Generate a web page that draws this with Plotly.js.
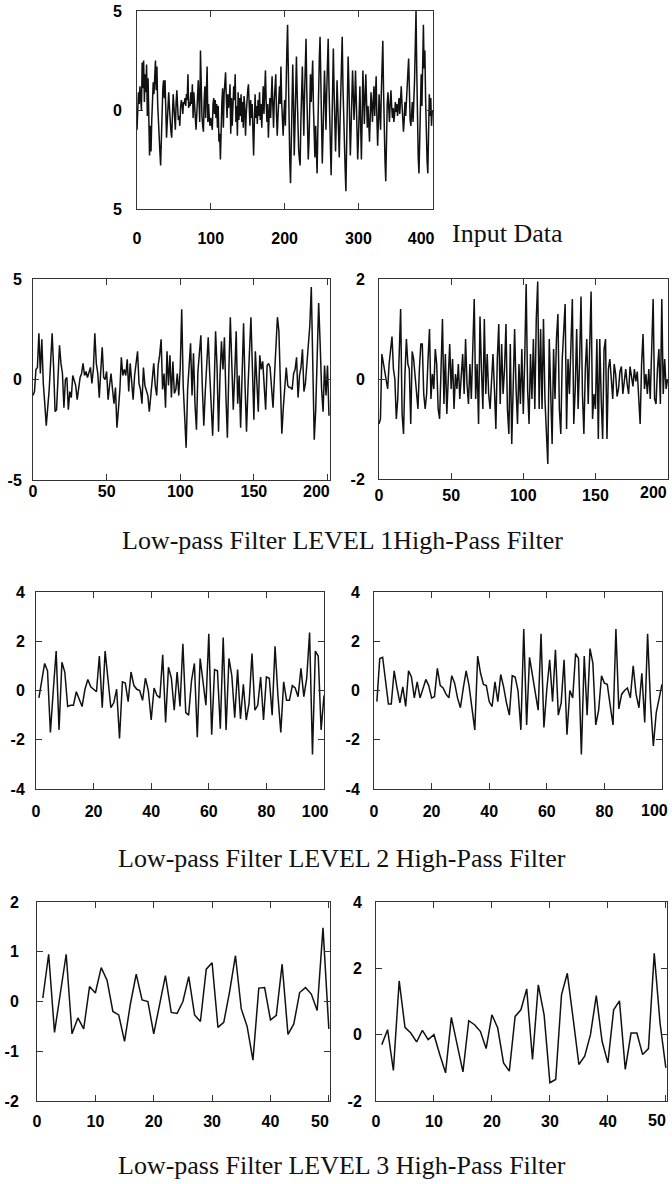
<!DOCTYPE html>
<html>
<head>
<meta charset="utf-8">
<script src="https://cdn.plot.ly/plotly-3.0.1.min.js"></script>
<style>
  html, body { margin: 0; padding: 0; background: #ffffff; }
  #chart { width: 672px; height: 1184px; }
</style>
</head>
<body>
<div id="chart"></div>
<script>
// ---------------- data ----------------
const inputData = [
  -1.0, 0.4, 0.9, 0.3, 1.2, 0.6, 0.0, 2.4, 1.1, 2.5, 0.4, 1.8, 0.9, 2.3, -0.3, 1.6, -1.4, -2.3, -0.8, -2.1,
  -0.5, 0.6, 1.4, 0.8, 1.7, 2.5, 1.0, 2.2, 0.3, -0.8, -1.5, -2.1, -2.8, -0.9, 0.3, 1.1, 1.5, 0.6, 1.5, 0.2,
  -1.4, -0.6, 0.3, 0.9, 0.1, -0.7, -1.1, -1.4, -0.3, 0.8, 0.2, -0.6, -1.0, 0.4, 1.0, 0.2, -0.5, -0.3, -0.8, 0.1,
  0.5, 0.3, -0.2, 0.4, 0.3, 0.6, 0.2, 0.8, 0.5, 1.8, 0.1, 0.4, 0.2, 0.9, 0.3, 1.3, -0.4, 0.9, 0.0, -0.6,
  -1.0, -0.2, 0.8, 1.5, 0.4, -0.6, 3.0, 1.0, -0.3, -0.8, -1.1, 0.5, 1.2, -0.4, 1.3, 2.2, -0.6, 0.3, -0.5, -0.8,
  -0.4, -0.6, -1.0, 0.3, 0.6, -0.2, 0.5, -0.4, 0.3, -0.9, 0.2, -1.6, -1.2, -2.5, -0.6, 0.4, 1.1, -0.9, 0.8, 1.4,
  1.9, 0.6, -0.4, 0.8, 0.1, 0.5, 1.3, -1.2, 0.6, -0.8, 0.4, 1.2, 0.5, 1.8, -0.6, 0.2, -1.3, 0.9, -0.5, 0.6,
  -0.3, 0.8, -0.6, 0.4, -0.9, 0.7, 0.2, -1.3, -0.2, 0.6, 1.0, 1.3, -0.2, -0.8, 0.5, -0.4, 0.3, -1.2, -2.3, -0.6,
  0.8, -0.4, 0.2, -0.7, 0.5, -0.3, 0.9, -0.5, 0.3, -0.9, 0.6, 1.2, -0.2, 0.7, 2.0, 0.4, -0.6, 0.3, -1.4, -0.3,
  0.6, -0.4, 0.8, 1.7, 0.2, -0.9, 0.5, 1.1, 1.8, -0.2, -1.3, -0.3, 0.6, 1.2, 0.3, 2.2, 0.4, -0.6, -1.3, -0.2,
  0.5, -0.8, 1.8, 3.0, 4.3, 1.2, -1.5, -2.6, -3.7, -1.0, 1.0, 2.3, 0.4, -2.3, -0.8, 1.2, 2.7, 0.8, -1.2, -2.0,
  -2.5, -2.8, -0.6, 1.0, 2.2, 0.5, -1.3, 0.8, 2.4, 3.6, 1.0, -1.4, -2.5, -1.6, 0.6, 1.8, 0.4, 1.3, 2.5, 0.2,
  -1.5, -2.4, -0.8, -2.0, -3.2, -1.0, 1.4, 2.6, 3.7, 1.0, -1.2, -2.7, -1.3, 0.5, 2.0, 0.6, -1.0, 0.9, 2.4, 3.6,
  1.3, -1.0, -2.4, -3.3, -1.1, 1.2, 3.1, 1.0, -0.8, -2.1, -0.5, 1.5, 0.3, -1.2, -2.4, -0.7, 1.2, 2.6, 3.7, 1.2,
  -0.9, -2.2, -3.0, -4.1, -1.6, 0.8, 2.7, 1.4, -0.6, -2.3, -1.0, 0.6, 2.0, 0.9, -0.5, 0.4, 2.0, 0.6, -1.2, -2.5,
  -1.4, 0.3, 1.2, -0.8, -2.5, -0.5, 2.0, 0.8, -0.7, 0.6, 1.8, 0.4, -0.9, 0.2, -0.4, -1.6, -0.3, 0.9, 0.2, -0.6,
  0.5, 1.2, -0.3, 0.6, 1.7, -0.4, -1.8, -0.6, 0.8, -0.2, -1.0, 0.9, 2.2, 3.5, 1.0, -1.5, -2.6, -3.6, -1.2, 0.3,
  0.9, -0.2, -0.6, 0.3, 1.0, 0.2, -0.4, 0.1, -0.6, -0.2, 0.4, -0.1, 0.3, -0.3, 0.2, 0.6, -0.2, 0.4, 1.2, 0.3,
  -0.4, -1.1, -0.5, 0.4, -0.3, 0.7, 1.2, 1.9, 2.6, 0.8, -0.5, -0.8, -0.3, 0.4, -0.6, 0.2, 1.5, 3.2, 5.0, 2.0,
  -1.0, -2.4, -3.2, -1.5, 0.6, 1.8, 0.2, 2.9, 4.3, 2.1, 3.0, 0.5, -1.6, -2.6, -3.2, -0.8, 0.8, -0.3, 0.6, -0.8, 0.0
];

const lowPass1 = [
  -0.8, -0.6, 0.5, 0.6, 2.3, 0.3, 2.0, -0.2, -1.2, -2.3,
  -1.4, -0.5, 0.9, 2.3, 0.6, -1.6, -1.5, 0.2, 1.7, 0.8,
  0.3, -1.4, 0.0, 0.1, -1.5, -0.6, -0.9, 0.2, 0.0, -0.3,
  -1.0, -0.4, 0.1, 0.3, 0.8, 0.2, 0.4, 0.1, 0.3, 0.6,
  -0.2, 0.5, 2.3, 0.8, 0.3, -0.9, 0.4, 1.6, 0.1, 0.0,
  0.4, -1.0, -0.3, 0.3, -0.5, -1.2, -0.4, -2.4, -1.5, -0.5,
  1.1, 0.2, 0.5, 0.2, 1.0, -0.6, 0.8, 0.0, -1.0, 0.2,
  0.7, 1.4, -0.2, -0.5, -1.2, 0.6, -0.3, -0.5, -0.8, -1.6,
  -0.6, 0.0, 0.8, -0.3, -0.8, 0.7, 1.2, 2.0, -0.5, 0.3,
  -1.4, 1.4, -0.3, 1.2, -0.9, 0.9, -0.7, -0.5, 0.3, -0.8,
  0.6, 3.5, -0.3, -2.2, -3.4, -0.5, 0.8, 1.8, -0.8, 1.3,
  -1.2, -2.5, 0.4, 1.6, 2.2, -0.4, -2.3, -0.6, 1.0, 2.1,
  0.3, -1.5, -2.8, -0.5, 2.4, 0.6, -2.6, 0.2, 1.9, 0.5,
  2.1, -0.8, -2.9, 0.4, 3.1, 0.8, -1.5, 0.3, 2.4, -1.2,
  0.2, -2.4, 0.3, 2.8, -0.3, -2.6, -0.4, 1.2, 3.1, 0.6,
  -2.0, 1.4, -0.4, -1.6, 1.2, 0.5, 0.9, -0.3, -1.5, 0.7,
  0.8, 0.6, -0.2, -1.4, 0.2, 1.5, 3.1, 2.4, -0.6, -2.7,
  -1.4, -0.6, 0.6, -0.3, -0.4, -0.4, -0.5, 0.3, 0.5, 1.1,
  -0.9, 0.2, 0.6, 1.5, -0.6, -0.2, 0.8, 1.4, 2.7, 4.6,
  1.5, -3.0, -1.5, 0.8, 3.8, 1.8, -0.5, -1.6, 0.7, -0.8, 0.7, -1.8
];

const highPass1 = [
  -0.9, -0.8, 0.5, 0.3, 0.2, 0.0, -0.2, 0.3, 0.6, 0.85,
  0.2, 0.0, -0.8, -0.4, 0.5, 1.4, -0.7, -1.1, 0.1, 0.8,
  0.3, 0.2, -0.9, 0.55, 0.4, 0.1, -0.3, -0.6, 0.2, 0.7,
  0.7, -0.3, -0.6, -0.3, 0.4, 1.0, -0.4, 0.1, -0.2, 0.6,
  0.3, -0.6, -0.8, 0.4, 1.2, -0.5, 0.5, -0.7, 0.2, 0.7,
  -0.2, 0.4, -0.6, 0.1, -0.2, 0.3, -0.4, 0.2, 0.5, -0.3,
  0.8, -0.1, -0.5, 0.3, -0.4, 0.6, 1.6, -0.4, 0.3, -0.9,
  1.25, 0.2, -0.6, 1.2, -0.3, 0.5, -0.3, -0.6, 0.1, 0.5,
  -0.2, -1.0, 0.4, 1.1, -0.5, 0.7, -0.3, 0.2, 1.1, -0.6,
  -1.1, 0.7, -1.3, 0.2, 1.0, -0.2, -0.9, 0.3, -0.5, 0.6,
  -0.7, 0.4, 1.9, -0.2, -0.9, 0.5, -0.4, 0.8, -0.6, 1.2,
  1.95, -0.6, 1.0, -0.6, 1.2, -0.4, -1.0, -1.7, 0.8, -0.2,
  -1.3, 0.6, -0.4, 0.8, 1.3, -0.6, -1.1, 0.4, 0.9, 1.5,
  -1.0, 0.4, -0.3, 0.9, 1.6, -0.9, -0.2, 1.0, -0.6, 0.3,
  1.65, -0.3, -1.1, 0.2, 0.8, -0.5, 0.4, 1.75, -0.8, -0.3,
  -0.6, 0.8, -1.2, 0.8, -0.4, -1.2, 0.6, 0.8, -1.2, 0.2,
  0.4, -0.1, -0.4, 0.3, 0.1, -0.35, -0.2, 0.15, 0.25, -0.3,
  0.0, 0.2, -0.1, -0.3, 0.25, 0.05, -0.15, 0.2, -0.05, 0.15,
  -0.4, -0.9, 0.3, 0.9, -0.2, 0.1, -0.3, 0.2, -0.4, 0.6,
  1.6, -0.4, -0.5, 0.2, 0.6, -0.5, 1.6, -0.3, 0.4, -0.2, 0.0
];

const lowPass2 = [
  -0.3, 0.4, 1.1, 0.8, -1.7, 0.0, 1.6, -1.6, 1.15, 0.75,
  -0.65, -0.6, -0.6, -0.05, -0.35, -0.65, 0.05, 0.45, 0.15, 0.05,
  -0.05, 1.4, -0.7, 1.6, 0.5, -0.7, -0.5, 0.05, -1.95, 0.35,
  0.3, -0.45, 0.75, 0.2, 0.05, 0.0, -0.4, 0.5, 0.0, -1.2,
  0.1, -0.2, -0.3, 1.45, -1.3, 0.95, 0.5, -0.8, 0.75, -0.65,
  1.9, -0.9, -1.0, 0.4, 1.1, -1.9, 1.3, 0.4, -0.6, 2.3,
  -1.8, 0.85, 0.8, -1.55, 2.15, -1.6, 1.3, 0.6, -1.1, 0.85,
  -1.15, 0.25, -1.2, -0.5, 1.5, -0.8, -0.6, 0.55, -1.2, 0.55,
  0.5, -1.0, 1.8, -0.2, -1.7, 0.35, -0.4, -0.4, 0.2, 0.1,
  -0.25, 0.9, -0.25, 0.5, 2.35, -2.6, 1.6, 1.4, -1.6, -0.2
];

const highPass2 = [
  -0.45, 1.3, 1.35, 0.4, -0.55, -0.55, 0.8, 0.1, -0.5, 0.15,
  -0.65, 0.8, 0.55, -0.3, 0.35, -0.3, 0.1, 0.45, 0.2, -0.3,
  -0.25, 0.9, 0.2, 0.1, -0.15, -0.3, 0.6, 0.3, -0.3, -0.7,
  0.1, 0.8, 0.2, -0.6, -1.6, 1.4, 0.7, 0.25, 0.2, -0.45,
  -0.65, 0.35, -0.45, 0.65, 0.15, -0.5, -1.0, 0.6, 0.55, 0.0,
  -1.6, 2.5, -1.4, 1.35, 0.6, -0.2, -0.8, 2.3, -1.5, 0.05,
  1.25, -0.45, 1.65, -1.0, -0.5, 1.25, -1.8, 0.0, -0.3, 1.5,
  1.3, -2.6, 1.4, -1.0, 1.7, 1.1, -1.4, -0.8, 0.6, 0.3,
  0.25, -0.6, -1.4, 2.5, -0.75, -0.15, 0.0, 0.1, -0.3, 1.0,
  -0.15, -0.7, 0.7, -1.3, 2.3, -0.5, -2.25, -0.9, -0.3, 0.25
];

const lowPass3 = [
  0.07, 0.95, -0.62, 0.15, 0.95, -0.65, -0.33, -0.55, 0.3, 0.17,
  0.68, 0.43, -0.2, -0.27, -0.8, -0.05, 0.55, 0.03, 0.0, -0.65,
  -0.05, 0.52, -0.22, -0.24, 0.0, 0.5, -0.27, -0.4, 0.65, 0.78,
  -0.52, -0.42, 0.2, 0.92, -0.15, -0.5, -1.18, 0.27, 0.28, -0.37,
  -0.28, 0.75, -0.66, -0.45, 0.18, 0.28, 0.15, -0.18, 1.48, -0.55
];

const highPass3 = [
  -0.3, 0.15, -1.08, 1.62, 0.22, 0.05, -0.22, 0.13, -0.15, 0.0,
  -0.6, -1.15, 0.52, -0.3, -1.12, 0.42, 0.3, 0.1, -0.42, 0.6,
  0.2, -0.85, -1.1, 0.55, 0.75, 1.38, -0.75, 1.5, 0.6, -1.45,
  -1.35, 1.2, 1.85, 0.5, -0.9, -0.65, 0.0, 1.18, -0.2, -0.85,
  0.75, 1.02, -1.05, 0.05, 0.05, -0.6, -0.42, 2.45, 0.35, -1.0
];

const captionInput = 'Input Data';
const caption1 = 'Low-pass Filter LEVEL 1High-Pass Filter';
const caption2 = 'Low-pass Filter LEVEL 2 High-Pass Filter';
const caption3 = 'Low-pass Filter LEVEL 3 High-Pass Filter';

// ---------------- layout helpers ----------------
const W = 672, H = 1184;
function xd(a, b) { return [a / W, b / W]; }
function yd(top, bottom) { return [1 - bottom / H, 1 - top / H]; }
function seq(arr, start) { return arr.map((_, i) => start + i); }
const NB = '\u00a0';
function pad(n) { return NB.repeat(n); }

const tickFont = { family: 'Liberation Sans', size: 16, weight: 700, color: '#000' };
const capFont = { family: 'Liberation Serif', size: 26, color: '#111' };

function axisBase(extra) {
  return Object.assign({
    showline: true, mirror: 'ticks', linecolor: '#333', linewidth: 1,
    ticks: 'inside', ticklen: 6, tickcolor: '#333', tickwidth: 1,
    showgrid: false, zeroline: false, tickfont: tickFont,
    tickmode: 'array', fixedrange: true, ticklabeloverflow: 'allow'
  }, extra);
}

// dom = [left, right, top, bottom] px; xs/ys = label standoffs;
// lp = padding of the last x label; edge = last x label drawn right-aligned (labelY px, xshift px)
const panels = [
  { data: inputData, start: 0, xr: [0, 401], yr: [-5, 5], dom: [137, 433, 11, 209],
    xt: [0, 100, 200, 300, 400], yt: [-5, 0, 5], ytt: ['5', '0', '5'], xs: 15, ys: 11, lp: 5 },
  { data: lowPass1, start: 0, xr: [0, 201.7], yr: [-5, 5], dom: [33, 330, 279, 480],
    xt: [0, 50, 100, 150, 200], yt: [-5, 0, 5], ytt: ['-5', '0', '5'], xs: -3, ys: 7, lp: 5 },
  { data: highPass1, start: 0, xr: [0, 200.3], yr: [-2, 2], dom: [379, 668, 279, 479],
    xt: [0, 50, 100, 150, 200], yt: [-2, 0, 2], ytt: ['-2', '0', '2'], xs: 2, ys: 10, edge: [493, 1] },
  { data: lowPass2, start: 1, xr: [0, 100], yr: [-4, 4], dom: [36, 324, 592, 789],
    xt: [0, 20, 40, 60, 80, 100], yt: [-4, -2, 0, 2, 4], ytt: ['-4', '-2', '0', '2', '4'], xs: 8, ys: 7, lp: 4 },
  { data: highPass2, start: 1, xr: [0, 100], yr: [-4, 4], dom: [374, 662, 592, 789],
    xt: [0, 20, 40, 60, 80, 100], yt: [-4, -2, 0, 2, 4], ytt: ['-4', '-2', '0', '2', '4'], xs: 8, ys: 10, edge: [810, 8] },
  { data: lowPass3, start: 1, xr: [0, 50.2], yr: [-2, 2], dom: [37, 330, 902, 1101],
    xt: [0, 10, 20, 30, 40, 50], yt: [-2, -1, 0, 1, 2], ytt: ['-2', '-1', '0', '1', '2'], xs: 6, ys: 14, lp: 4 },
  { data: highPass3, start: 1, xr: [0, 50.2], yr: [-2, 4], dom: [376, 667, 902, 1101],
    xt: [0, 10, 20, 30, 40, 50], yt: [-2, 0, 2, 4], ytt: ['-2', '0', '2', '4'], xs: 6, ys: 10, edge: [1120, 2] }
];

const traces = [];
const layout = {
  width: W, height: H,
  margin: { l: 0, r: 0, t: 0, b: 0 },
  paper_bgcolor: '#ffffff', plot_bgcolor: '#ffffff',
  showlegend: false,
  annotations: []
};

panels.forEach((p, i) => {
  const n = i === 0 ? '' : String(i + 1);
  traces.push({
    x: seq(p.data, p.start), y: p.data,
    type: 'scatter', mode: 'lines',
    line: { color: '#111', width: 1.5 },
    xaxis: 'x' + n, yaxis: 'y' + n, hoverinfo: 'skip'
  });
  const last = p.xt.length - 1;
  const xtt = p.xt.map((v, k) => {
    if (k !== last) return String(v);
    return p.edge ? '' : String(v) + pad(p.lp);
  });
  layout['xaxis' + n] = axisBase({
    domain: xd(p.dom[0], p.dom[1]), range: p.xr, anchor: 'y' + n,
    tickvals: p.xt, ticktext: xtt, ticklabelstandoff: p.xs
  });
  layout['yaxis' + n] = axisBase({
    domain: yd(p.dom[2], p.dom[3]), range: p.yr, anchor: 'x' + n,
    tickvals: p.yt, ticktext: p.ytt, ticklabelstandoff: p.ys
  });
  if (p.edge) {
    layout.annotations.push({
      text: String(p.xt[last]), xref: 'x' + n, x: p.xt[last], xanchor: 'right', xshift: p.edge[1],
      yref: 'paper', y: 1 - p.edge[0] / H, yanchor: 'middle',
      showarrow: false, font: tickFont
    });
  }
});

function cap(text, xpx, ypx, anchor) {
  return { text: text, x: xpx / W, y: 1 - ypx / H, xref: 'paper', yref: 'paper',
           xanchor: anchor, yanchor: 'middle', showarrow: false, font: capFont };
}
layout.annotations.push(cap(captionInput, 450, 234, 'left'));
layout.annotations.push(cap(caption1, 342, 540, 'center'));
layout.annotations.push(cap(caption2, 342, 858, 'center'));
layout.annotations.push(cap(caption3, 342, 1165, 'center'));

Plotly.newPlot('chart', traces, layout, { staticPlot: true, displayModeBar: false });
</script>
</body>
</html>
